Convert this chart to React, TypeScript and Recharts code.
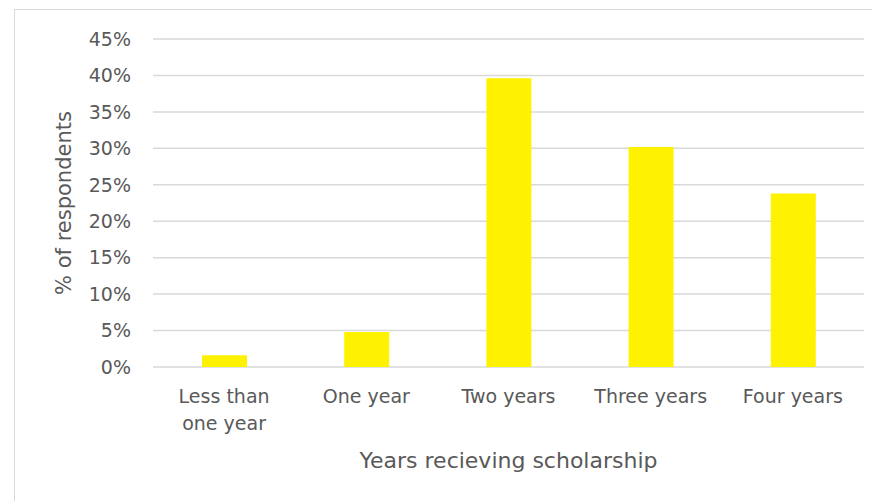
import React from "react";
import { BarChart, Bar, XAxis, YAxis, CartesianGrid } from "recharts";

const categories = ["Less than one year", "One year", "Two years", "Three years", "Four years"];
const categoryLines = [["Less than", "one year"], ["One year"], ["Two years"], ["Three years"], ["Four years"]];
const percentRespondents = [1.6, 4.8, 39.6, 30.2, 23.8];
const yTicks = [0, 5, 10, 15, 20, 25, 30, 35, 40, 45];

const data = categories.map((c, i) => ({ category: c, value: percentRespondents[i] }));

const FONT = "'DejaVu Sans', sans-serif";
const TEXT = "#595959";

const CatTick = (props: any) => {
  const { x, y, payload } = props;
  const idx = categories.indexOf(payload.value);
  const lines = idx >= 0 ? categoryLines[idx] : [payload.value];
  return (
    <text x={x} y={y + 28} textAnchor="middle" fill={TEXT} fontSize={19} fontFamily={FONT}>
      {lines.map((l: string, i: number) => (
        <tspan key={i} x={x} dy={i === 0 ? 0 : 27}>
          {l}
        </tspan>
      ))}
    </text>
  );
};

export default function App() {
  return (
    <div style={{ position: "absolute", left: 0, top: 0, width: 872, height: 501, background: "#fff", overflow: "hidden" }}>
      <div
        style={{
          position: "absolute",
          left: 14,
          top: 9,
          width: 880,
          height: 520,
          border: "1px solid #d9d9d9",
          boxSizing: "border-box",
        }}
      />
      <BarChart
        width={872}
        height={501}
        data={data}
        margin={{ top: 39, right: 8, bottom: 0, left: 0 }}
        style={{ position: "absolute", left: 0, top: 0 }}
      >
        <CartesianGrid vertical={false} stroke="#d9d9d9" strokeWidth={1.5} />
        <XAxis
          dataKey="category"
          height={134}
          axisLine={false}
          tickLine={false}
          interval={0}
          tick={<CatTick />}
          label={{
            value: "Years recieving scholarship",
            position: "insideBottom",
            offset: 33,
            fill: TEXT,
            fontSize: 22,
            fontFamily: FONT,
          }}
        />
        <YAxis
          width={153}
          domain={[0, 45]}
          ticks={yTicks}
          axisLine={false}
          tickLine={false}
          tickMargin={16}
          tickFormatter={(v: number) => `${v}%`}
          tick={{ fill: TEXT, fontSize: 19, fontFamily: FONT }}
          label={{
            value: "% of respondents",
            angle: -90,
            position: "insideLeft",
            offset: 64,
            fill: TEXT,
            fontSize: 21,
            fontFamily: FONT,
            style: { textAnchor: "middle" },
          }}
        />
        <Bar dataKey="value" fill="#FFF200" barSize={45} isAnimationActive={false} />
      </BarChart>
    </div>
  );
}
